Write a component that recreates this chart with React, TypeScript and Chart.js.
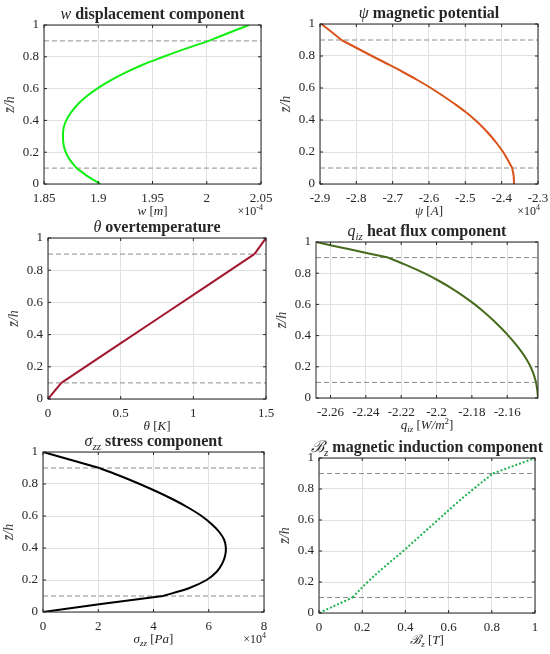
import { useEffect, useRef } from "react";
import { Chart, registerables } from "chart.js";

Chart.register(...registerables);

const FONT = '"Liberation Serif", "DejaVu Serif", serif';
const INK = "#262626";

// normalised depth z/h
const zGrid = [0, 0.05, 0.1, 0.15, 0.2, 0.25, 0.3, 0.35, 0.4, 0.45, 0.5, 0.55, 0.6, 0.65, 0.7, 0.75, 0.8, 0.85, 0.9, 0.95, 1];
const zTicks = [0, 0.2, 0.4, 0.6, 0.8, 1];
const interfaceLevels = [0.1, 0.9];

// w displacement (x 1e-4 m)
const wValues = [1.902, 1.89, 1.88, 1.874, 1.87, 1.868, 1.8675, 1.868, 1.8705, 1.875, 1.881, 1.889, 1.899, 1.911, 1.925, 1.941, 1.96, 1.98, 2.002, 2.02, 2.039];
const wTicks = [1.85, 1.9, 1.95, 2, 2.05];

// psi magnetic potential (x 1e4 A)
const psiValues = [-2.366, -2.367, -2.371, -2.383, -2.396, -2.412, -2.43, -2.45, -2.473, -2.499, -2.529, -2.561, -2.595, -2.632, -2.672, -2.714, -2.757, -2.799, -2.841, -2.868, -2.896];
const psiTicks = [-2.9, -2.8, -2.7, -2.6, -2.5, -2.4, -2.3];

// theta overtemperature (K)
const zTheta = [0, 0.1, 0.5, 0.9, 1];
const thetaValues = [0, 0.092, 0.756, 1.42, 1.5];
const thetaTicks = [0, 0.5, 1, 1.5];

// q_iz heat flux (W/m^2)
const qValues = [-2.1426, -2.143, -2.1437, -2.145, -2.1468, -2.1492, -2.1522, -2.1556, -2.1594, -2.1636, -2.1681, -2.173, -2.1784, -2.1844, -2.191, -2.1985, -2.207, -2.2167, -2.2274, -2.2479, -2.2682];
const qTicks = [-2.26, -2.24, -2.22, -2.2, -2.18, -2.16];

// sigma_zz stress (x 1e4 Pa)
const sigmaValues = [0, 2.1, 4.34, 5.3, 5.92, 6.28, 6.48, 6.59, 6.62, 6.56, 6.38, 6.1, 5.74, 5.28, 4.75, 4.15, 3.5, 2.8, 2.04, 1.02, 0];
const sigmaTicks = [0, 2, 4, 6, 8];

// B_z magnetic induction (T)
const zB = [0, 0.1, 0.2, 0.3, 0.4, 0.5, 0.6, 0.7, 0.8, 0.9, 1];
const bValues = [0, 0.155, 0.225, 0.305, 0.39, 0.47, 0.55, 0.63, 0.715, 0.805, 1];
const bTicks = [0, 0.2, 0.4, 0.6, 0.8, 1];

type Seg = { t: string; i?: boolean; b?: boolean; sub?: boolean; sup?: boolean };

const YW = 42; // room for y tick labels + title
const TOP = 26;
const BOTTOM = 40;
const RM = 12;

function segFont(s: Seg, size: number) {
  const px = s.sub || s.sup ? Math.round(size * 0.7) : size;
  return `${s.i ? "italic " : ""}${s.b ? "bold " : ""}${px}px ${FONT}`;
}

function drawRich(ctx: CanvasRenderingContext2D, segs: Seg[], x: number, y: number, size: number, align: string) {
  ctx.save();
  ctx.fillStyle = INK;
  ctx.textBaseline = "alphabetic";
  ctx.textAlign = "left";
  const widths = segs.map((s) => {
    ctx.font = segFont(s, size);
    return ctx.measureText(s.t).width;
  });
  const total = widths.reduce((a, b) => a + b, 0);
  let cx = align === "center" ? x - total / 2 : align === "right" ? x - total : x;
  segs.forEach((s, k) => {
    ctx.font = segFont(s, size);
    const dy = s.sub ? size * 0.25 : s.sup ? -size * 0.4 : 0;
    ctx.fillText(s.t, cx, y + dy);
    cx += widths[k];
  });
  ctx.restore();
}

type PanelProps = {
  rect: { l: number; t: number; w: number; h: number };
  xs: number[];
  zs: number[];
  xMin: number;
  xMax: number;
  xTicks: number[];
  color: string;
  dash?: number[];
  title: Seg[];
  xLabel: Seg[];
  exp?: string;
};

const Panel = (p: PanelProps) => {
  const chartRef = useRef<HTMLCanvasElement | null>(null);
  const W = p.rect.w + YW + RM;
  const H = p.rect.h + TOP + BOTTOM;

  useEffect(() => {
    if (!chartRef.current) return;
    const decor = {
      id: "decor",
      afterDraw(chart: Chart) {
        const { ctx, chartArea: a, scales } = chart;
        ctx.save();
        ctx.strokeStyle = INK;
        ctx.lineWidth = 1;
        ctx.strokeRect(a.left, a.top, a.width, a.height);
        ctx.beginPath();
        p.xTicks.forEach((v) => {
          const px = scales.x.getPixelForValue(v);
          ctx.moveTo(px, a.bottom);
          ctx.lineTo(px, a.bottom - 3);
          ctx.moveTo(px, a.top);
          ctx.lineTo(px, a.top + 3);
        });
        zTicks.forEach((v) => {
          const py = scales.y.getPixelForValue(v);
          ctx.moveTo(a.left, py);
          ctx.lineTo(a.left + 3, py);
          ctx.moveTo(a.right, py);
          ctx.lineTo(a.right - 3, py);
        });
        ctx.stroke();
        ctx.restore();
        const cx = (a.left + a.right) / 2;
        drawRich(ctx, p.title, cx, a.top - 6, 16, "center");
        drawRich(ctx, p.xLabel, cx, a.bottom + 31, 13, "center");
        if (p.exp) {
          drawRich(ctx, [{ t: "×10" }, { t: p.exp, sup: true }], a.right + 2, a.bottom + 31, 12, "right");
        }
      },
    };

    // the profile is smooth inside each layer, with kinks at the interfaces
    const bounds = [0, ...interfaceLevels, 1];
    const pieces = bounds.slice(0, -1).map((lo, k) => {
      const hi = bounds[k + 1];
      return p.zs
        .map((z, i) => ({ x: p.xs[i], y: z }))
        .filter((pt) => pt.y >= lo - 1e-9 && pt.y <= hi + 1e-9);
    });

    const chart = new Chart(chartRef.current, {
      type: "scatter",
      data: {
        datasets: [
          ...pieces.map((data) => ({
            data,
            borderColor: p.color,
            borderWidth: 2,
            borderDash: p.dash ?? [],
            showLine: true,
            pointRadius: 0,
            tension: 0.35,
          })),
          ...interfaceLevels.map((z) => ({
            data: [
              { x: p.xMin, y: z },
              { x: p.xMax, y: z },
            ],
            borderColor: "#8c8c8c",
            borderWidth: 1,
            borderDash: [5, 3],
            showLine: true,
            pointRadius: 0,
          })),
        ],
      },
      options: {
        responsive: false,
        animation: false,
        layout: { padding: { top: TOP, right: RM, left: 0, bottom: 0 } },
        plugins: {
          legend: { display: false },
          tooltip: { enabled: false },
        },
        scales: {
          x: {
            type: "linear",
            min: p.xMin,
            max: p.xMax,
            afterBuildTicks: (s: any) => {
              s.ticks = p.xTicks.map((v) => ({ value: v }));
            },
            afterFit: (s: any) => {
              s.height = BOTTOM;
              s.paddingLeft = 0;
              s.paddingRight = 0;
            },
            grid: { color: "#e0e0e0", drawTicks: false },
            border: { display: false },
            ticks: {
              padding: 7,
              color: INK,
              autoSkip: false,
              maxRotation: 0,
              font: { family: FONT, size: 13 },
              callback: (v: any) => String(v),
            },
          },
          y: {
            type: "linear",
            min: 0,
            max: 1,
            afterBuildTicks: (s: any) => {
              s.ticks = zTicks.map((v) => ({ value: v }));
            },
            afterFit: (s: any) => {
              s.width = YW;
              s.paddingTop = 0;
              s.paddingBottom = 0;
            },
            grid: { color: "#e0e0e0", drawTicks: false },
            border: { display: false },
            title: {
              display: true,
              text: "z\u0304/h",
              color: "#404040",
              font: { family: FONT, size: 14, style: "italic" },
              padding: { top: 0, bottom: 1 },
            },
            ticks: {
              padding: 5,
              color: INK,
              autoSkip: false,
              font: { family: FONT, size: 13 },
              callback: (v: any) => String(v),
            },
          },
        },
      },
      plugins: [decor],
    });

    return () => {
      chart.destroy();
    };
  }, []);

  return (
    <canvas
      ref={chartRef}
      width={W}
      height={H}
      style={{
        position: "absolute",
        left: p.rect.l - YW,
        top: p.rect.t - TOP,
        width: W,
        height: H,
      }}
    />
  );
};

const App = () => {
  return (
    <div style={{ position: "absolute", left: 0, top: 0, width: 550, height: 654, overflow: "hidden", background: "#fff" }}>
      <Panel
        rect={{ l: 44, t: 25, w: 217, h: 159 }}
        xs={wValues}
        zs={zGrid}
        xMin={1.85}
        xMax={2.05}
        xTicks={wTicks}
        color="#11ee11"
        title={[{ t: "w", i: true }, { t: " displacement component", b: true }]}
        xLabel={[{ t: "w", i: true }, { t: " [" }, { t: "m", i: true }, { t: "]" }]}
        exp="-4"
      />
      <Panel
        rect={{ l: 320, t: 24, w: 218, h: 160 }}
        xs={psiValues}
        zs={zGrid}
        xMin={-2.9}
        xMax={-2.3}
        xTicks={psiTicks}
        color="#d95319"
        title={[{ t: "ψ", i: true }, { t: " magnetic potential", b: true }]}
        xLabel={[{ t: "ψ", i: true }, { t: " [" }, { t: "A", i: true }, { t: "]" }]}
        exp="4"
      />
      <Panel
        rect={{ l: 48, t: 238, w: 218, h: 161 }}
        xs={thetaValues}
        zs={zTheta}
        xMin={0}
        xMax={1.5}
        xTicks={thetaTicks}
        color="#a2142f"
        title={[{ t: "θ", i: true }, { t: " overtemperature", b: true }]}
        xLabel={[{ t: "θ", i: true }, { t: " [" }, { t: "K", i: true }, { t: "]" }]}
      />
      <Panel
        rect={{ l: 316, t: 242, w: 222, h: 156 }}
        xs={qValues}
        zs={zGrid}
        xMin={-2.2682}
        xMax={-2.1426}
        xTicks={qTicks}
        color="#476b1c"
        title={[{ t: "q", i: true }, { t: "iz", i: true, sub: true }, { t: " heat flux component", b: true }]}
        xLabel={[
          { t: "q", i: true },
          { t: "iz", i: true, sub: true },
          { t: " [" },
          { t: "W/m", i: true },
          { t: "2", sup: true },
          { t: "]" },
        ]}
      />
      <Panel
        rect={{ l: 43, t: 452, w: 221, h: 160 }}
        xs={sigmaValues}
        zs={zGrid}
        xMin={0}
        xMax={8}
        xTicks={sigmaTicks}
        color="#000000"
        title={[{ t: "σ", i: true }, { t: "zz", i: true, sub: true }, { t: " stress component", b: true }]}
        xLabel={[{ t: "σ", i: true }, { t: "zz", i: true, sub: true }, { t: " [" }, { t: "Pa", i: true }, { t: "]" }]}
        exp="4"
      />
      <Panel
        rect={{ l: 319, t: 458, w: 216, h: 155 }}
        xs={bValues}
        zs={zB}
        xMin={0}
        xMax={1}
        xTicks={bTicks}
        color="#1fb050"
        dash={[2, 2]}
        title={[{ t: "ℬ", i: true }, { t: "z", i: true, sub: true }, { t: " magnetic induction component", b: true }]}
        xLabel={[{ t: "ℬ", i: true }, { t: "z", i: true, sub: true }, { t: " [" }, { t: "T", i: true }, { t: "]" }]}
      />
    </div>
  );
};

export default App;
